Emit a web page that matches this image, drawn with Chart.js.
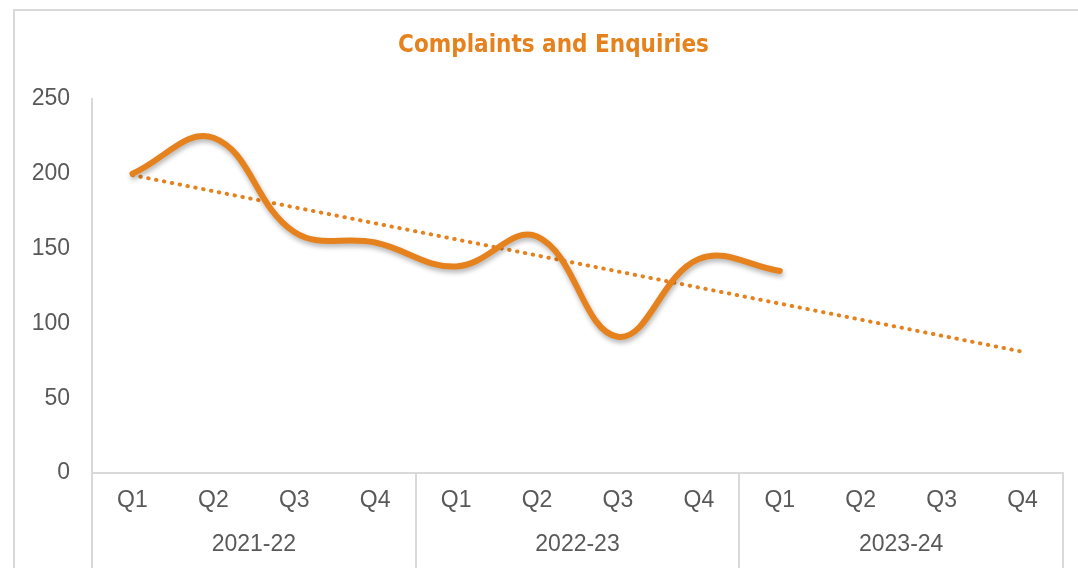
<!DOCTYPE html>
<html>
<head>
<meta charset="utf-8">
<script src="https://cdn.jsdelivr.net/npm/chart.js@4"></script>
<style>
  html, body { margin: 0; padding: 0; background: #fff; }
  #wrap { position: relative; width: 1078px; height: 568px; overflow: hidden; }
  #frame { position: absolute; left: 13px; top: 9px; width: 1100px; height: 600px; border: 2px solid #d9d9d9; box-sizing: border-box; }
  #chart { position: absolute; left: 0; top: 0; }
</style>
</head>
<body>
<div id="wrap">
  <div id="frame"></div>
  <canvas id="chart" width="1078" height="568"></canvas>
</div>
<script>
// données
const quarters = ['Q1', 'Q2', 'Q3', 'Q4', 'Q1', 'Q2', 'Q3', 'Q4', 'Q1', 'Q2', 'Q3', 'Q4'];
const years = ['2021-22', '2022-23', '2023-24'];
const complaints = [200, 224, 161, 154, 138, 158, 91, 143, 135, null, null, null];
const trend = [199, null, null, null, null, null, null, null, null, null, null, 81];
const yMin = 0, yMax = 250, yStep = 50;

const ORANGE = '#E6821E';
const GREY_LINE = '#d9d9d9';
const TEXT = '#595959';
const TICK_FONT = { family: '"Liberation Sans", Arial, sans-serif', size: 23 };

// ombre sous la courbe principale
const shadowPlugin = {
    id: 'lineShadow',
    beforeDatasetDraw(chart, args) {
        if (args.index !== 0) return;
        const ctx = chart.ctx;
        ctx.save();
        ctx.shadowColor = 'rgba(0,0,0,0.3)';
        ctx.shadowBlur = 5;
        ctx.shadowOffsetX = 1;
        ctx.shadowOffsetY = 3;
    },
    afterDatasetDraw(chart, args) {
        if (args.index !== 0) return;
        chart.ctx.restore();
    }
};

// le titre Excel est un peu décalé vers la droite
const titleShift = {
    id: 'titleShift',
    afterLayout(chart) {
        const t = chart.titleBlock;
        if (!t) return;
        t.left += 22;
        t.right += 22;
    }
};

new Chart(document.getElementById('chart').getContext('2d'), {
    type: 'line',
    data: {
        labels: quarters,
        datasets: [
            {
                label: 'Complaints and Enquiries',
                data: complaints,
                borderColor: ORANGE,
                borderWidth: 6,
                borderCapStyle: 'round',
                borderJoinStyle: 'round',
                tension: 0.4,
                pointRadius: 0,
                fill: false
            },
            {
                label: 'Trend',
                data: trend,
                borderColor: ORANGE,
                borderWidth: 4,
                borderDash: [0.5, 7.5],
                borderCapStyle: 'round',
                spanGaps: true,
                tension: 0,
                pointRadius: 0,
                fill: false
            }
        ]
    },
    options: {
        responsive: false,
        animation: false,
        layout: { padding: { left: 0, right: 15, top: 0, bottom: 0 } },
        plugins: {
            legend: { display: false },
            tooltip: { enabled: false },
            title: {
                display: true,
                text: 'Complaints and Enquiries',
                color: ORANGE,
                font: { family: '"Liberation Sans Narrow", "DejaVu Sans Condensed", sans-serif', size: 24, weight: 'bold' },
                padding: { top: 31, bottom: 39 }
            }
        },
        scales: {
            y: {
                min: yMin,
                max: yMax,
                ticks: { stepSize: yStep, color: TEXT, font: TICK_FONT, padding: 22 },
                grid: { drawOnChartArea: false, drawTicks: false },
                border: { display: true, color: GREY_LINE, width: 2 },
                afterFit(scale) { scale.width = 92; }
            },
            x: {
                offset: true,
                weight: 0,
                ticks: { color: TEXT, font: TICK_FONT, padding: -81, maxRotation: 0, autoSkip: false },
                grid: {
                    offset: true,
                    drawOnChartArea: false,
                    drawTicks: true,
                    tickLength: 95,
                    lineWidth: 2,
                    color: ctx => (ctx.index === undefined || ctx.index % 4 === 0) ? GREY_LINE : 'rgba(0,0,0,0)'
                },
                border: { display: true, color: GREY_LINE, width: 2 },
                afterFit(scale) { scale.height = 45; }
            },
            x2: {
                type: 'category',
                labels: years,
                position: 'bottom',
                offset: true,
                weight: 1,
                ticks: { color: TEXT, font: TICK_FONT, padding: 13, maxRotation: 0, autoSkip: false },
                grid: { display: false, drawTicks: false },
                border: { display: false },
                afterFit(scale) { scale.height = 50; }
            }
        }
    },
    plugins: [shadowPlugin, titleShift]
});
</script>
</body>
</html>
